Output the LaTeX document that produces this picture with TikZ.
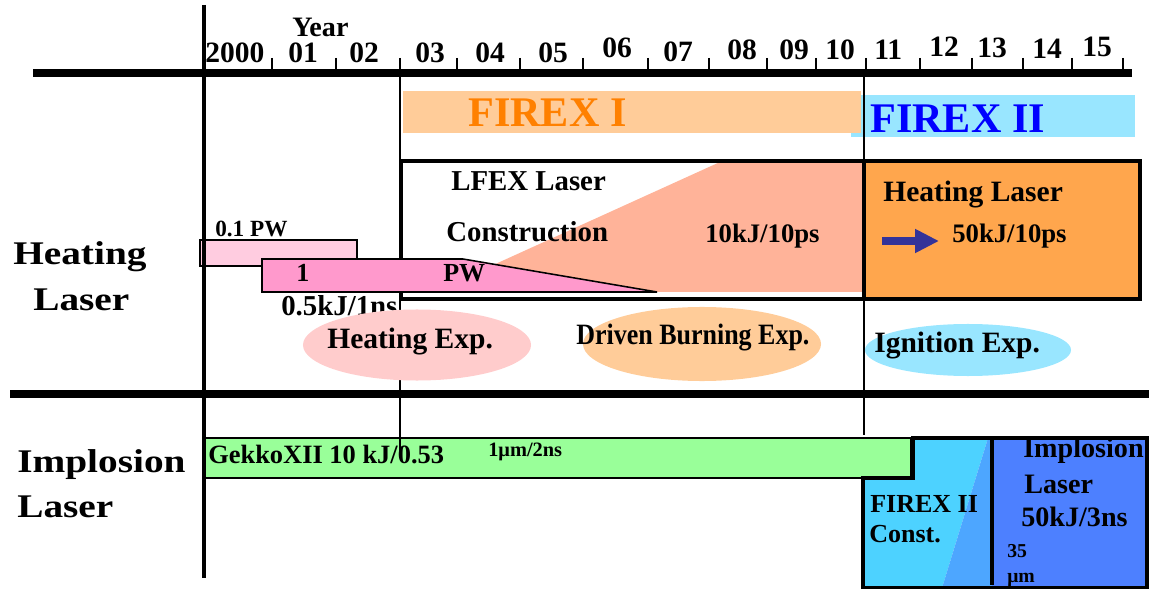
\documentclass[tikz,border=0pt]{standalone}
\usepackage{fontspec}
\setmainfont{Liberation Serif}
\usepackage{graphicx}
\definecolor{FXorange}{HTML}{FFCC99}
\definecolor{FXorangeText}{HTML}{FF8000}
\definecolor{FXcyan}{HTML}{99E6FF}
\definecolor{FXblueText}{HTML}{0000FF}
\definecolor{LFsalmon}{HTML}{FFB399}
\definecolor{HLorange}{HTML}{FFA64D}
\definecolor{PWlight}{HTML}{FFCCE0}
\definecolor{PWpink}{HTML}{FF99CC}
\definecolor{EXpink}{HTML}{FFCCCC}
\definecolor{GKgreen}{HTML}{99FF99}
\definecolor{ILcyan}{HTML}{4DD2FF}
\definecolor{ILmid}{HTML}{4DA6FF}
\definecolor{ILblue}{HTML}{4D80FF}
\definecolor{ARnavy}{HTML}{333399}
\usetikzlibrary{arrows.meta, positioning}
\newcommand{\fs}[1]{\fontsize{#1}{#1}\selectfont}
\newcommand{\hs}[2]{\scalebox{#1}[1]{#2}}

\begin{document}
\begin{tikzpicture}[x=0.025cm, y=-0.025cm,
    lbl/.style={inner sep=0pt, anchor=base west, font=\bfseries},
    yr/.style={lbl, font=\bfseries\fs{21pt}},
    yrtick/.style={line width=2.1pt},
    thickrule/.style={line width=5.7pt},
    thinrule/.style={line width=1.1pt},
    bar/.style={draw=black, line width=1.1pt}]
   \useasboundingbox (0,0) rectangle (1149,589);
   % Programme bars
   \fill[FXcyan] (851,95) rectangle (1135,137);
   \fill[FXorange] (403,91) rectangle (861,133);
   \node[lbl, font=\bfseries\fs{30pt}, text=FXorangeText] (firexI) at (468,127) {FIREX I};
   \node[lbl, font=\bfseries\fs{30pt}, text=FXblueText] (firexII) at (870,133) {FIREX II};
   % Gekko bar
   \draw[bar, fill=GKgreen] (203,438) rectangle (911,478);
   % Phase boundaries
   \draw[thinrule] (400,72) -- (400,458);
   \draw[thinrule] (864,72) -- (864,435);
   % LFEX construction
   \fill[LFsalmon] (480,271) -- (720,162) -- (862,162) -- (862,292) -- (480,292) -- cycle;
   \draw[line width=2.5pt] (401,161) rectangle (864,299);
   \draw[line width=3.2pt, fill=HLorange] (864,161) rectangle (1140,299);
   % PW lasers
   \draw[bar, fill=PWlight] (200,240) rectangle (357,266);
   \draw[bar, fill=PWpink] (262,259) -- (463,259) -- (657,292) -- (262,292) -- cycle;
   \node[lbl, font=\bfseries\fs{20.5pt}] (halfkj) at (281,316) {0.5kJ/1ns};
   % Experiments
   \fill[EXpink] (417,345) ellipse [x radius=2.85cm, y radius=0.8875cm];
   \fill[FXorange] (702,344) ellipse [x radius=2.975cm, y radius=0.925cm];
   \fill[FXcyan] (968,350) ellipse [x radius=2.575cm, y radius=0.65cm];
   % FIREX II implosion block
   \fill[ILcyan] (863,478) -- (913,478) -- (913,438) -- (988,438) -- (942,588) -- (863,588) -- cycle;
   \fill[ILmid] (988,438) -- (992,438) -- (992,588) -- (942,588) -- cycle;
   \fill[ILblue] (992,438) rectangle (1147,588);
   \draw[line width=2.8pt] (863,588) -- (863,478) -- (913,478) -- (913,438) -- (1147,438) -- (1147,588) -- cycle;
   \draw[line width=2.8pt] (992,438) -- (992,585);
   % Axes
   \draw[thickrule] (33,73) -- (1132,73);
   \draw[thickrule] (10,394) -- (1149,394);
   \draw[line width=3.2pt] (204,5) -- (204,578);
   \foreach \x in {272,336,400,457,520,583,648,709,767,816,866,920,972,1023,1072,1123}
      \draw[yrtick] (\x,58) -- (\x,71);
   \foreach \t/\x/\b [count=\i] in {2000/205/63, 01/288/63, 02/349/63, 03/415/63,
         04/475/63, 05/538/63, 06/602/58, 07/663/62, 08/727/60, 09/779/60,
         10/825/60, 11/874/60, 12/929/57, 13/977/58, 14/1032/59, 15/1082/57}
      \node[yr] (yr\i) at (\x,\b) {\t};
   \node[lbl, font=\bfseries\fs{20pt}] (year) at (292,37) {Year};
   % Row titles
   \node[lbl, font=\bfseries\fs{23.5pt}] (heatA) at (13,265) {\hs{1.19}{Heating}};
   \node[lbl, font=\bfseries\fs{23.5pt}] (heatB) at (33,311) {\hs{1.19}{Laser}};
   \node[lbl, font=\bfseries\fs{23.5pt}] (implA) at (17,472) {\hs{1.19}{Implosion}};
   \node[lbl, font=\bfseries\fs{23.5pt}] (implB) at (17,517) {\hs{1.19}{Laser}};
   % Heating laser texts
   \node[lbl, font=\bfseries\fs{20.5pt}] (lfexA) at (451,191) {LFEX Laser};
   \node[lbl, font=\bfseries\fs{20.5pt}] (lfexB) at (446,242) {Construction};
   \node[lbl, font=\bfseries\fs{19pt}] (lfexE) at (705,243) {10kJ/10ps};
   \node[lbl, font=\bfseries\fs{21pt}] (hlA) at (883,202) {Heating Laser};
   \node[lbl, font=\bfseries\fs{19pt}] (hlE) at (952,243) {50kJ/10ps};
   \coordinate (arrS) at (882,241);
   \coordinate (arrE) at (939,241);
   \draw[-{Triangle[length=17pt, width=16pt]}, line width=5.7pt, ARnavy] (arrS) -- (arrE);
   \node[lbl, font=\bfseries\fs{16.5pt}] (tenthpw) at (215,237) {0.1 PW};
   \node[lbl, font=\bfseries\fs{18.5pt}] (onepwA) at (296,282) {1};
   \node[lbl, font=\bfseries\fs{18.5pt}] (onepwB) at (443,282) {PW};
   \node[lbl, font=\bfseries\fs{21pt}] (expHeat) at (327,348) {Heating Exp.};
   \node[lbl, font=\bfseries\fs{21pt}] (expDrive) at (576,345) {\hs{0.88}{Driven Burning Exp.}};
   \node[lbl, font=\bfseries\fs{21pt}] (expIgn) at (874,353) {Ignition Exp.};
   % Implosion laser texts
   \node[lbl, font=\bfseries\fs{18.8pt}] (gekko) at (208,463) {GekkoXII 10 kJ/0.53};
   \node[lbl, font=\bfseries\fs{14.5pt}] (gekkoW) at (488,456) {1μm/2ns};
   \node[lbl, font=\bfseries\fs{18.5pt}] (constA) at (870,512) {FIREX II};
   \node[lbl, font=\bfseries\fs{18.5pt}] (constB) at (869,542) {Const.};
   \node[lbl, font=\bfseries\fs{20pt}] (ilA) at (1023,457) {Implosion};
   \node[lbl, font=\bfseries\fs{20pt}] (ilB) at (1024,493) {Laser};
   \node[lbl, font=\bfseries\fs{20pt}] (ilE) at (1021,526) {50kJ/3ns};
   \node[lbl, font=\bfseries\fs{14pt}] (ilD) at (1007,557) {35};
   \node[lbl, font=\bfseries\fs{14pt}] (ilU) at (1007,582) {μm};
\end{tikzpicture}
\end{document}
